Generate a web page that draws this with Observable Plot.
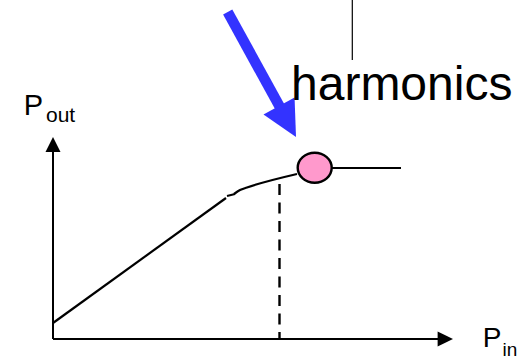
<!DOCTYPE html>
<html>
<head>
<meta charset="utf-8">
<script src="https://cdn.jsdelivr.net/npm/d3@7"></script>
<script src="https://cdn.jsdelivr.net/npm/@observablehq/plot@0.6"></script>
<style>
  html, body { margin: 0; padding: 0; background: #fff; }
  #chart svg { display: block; }
</style>
</head>
<body>
<div id="chart"></div>
<script>
// ---- Data (schematic units: Pin horizontally, Pout vertically, origin at axes) ----
const axisPin = [0, 392];            // horizontal axis extent
const axisPout = [0, 194];           // vertical axis extent
const axisTipPin = 400;              // arrow tip of Pin axis
const axisTipPout = 202;             // arrow tip of Pout axis

const linearPin = [0, 173];          // linear gain region
const linearPout = [16, 141];
const kinkPin = [174, 182];          // small drawing break
const kinkPout = [143, 145];
const compressPin = [181, 187, 194, 244];   // compression region
const compressPout = [145, 149, 151.5, 165];
const saturationPin = [279, 348];    // saturated output
const saturationPout = [171, 171];

const compressionPointPin = [261.7]; // pink marker
const compressionPointPout = [171.2];

const dashedPin = [226.5, 226.5];    // dashed drop line
const dashedPout = [155, 0];

const arrowPin = [174.7, 228];       // blue arrow shaft
const arrowPout = [327, 230];
const arrowTipPin = [243];
const arrowTipPout = [202];

const leaderPin = [299.3, 299.3];    // thin line above label
const leaderPout = [339, 279];

const labelText = ["harmonics", "P", "out", "P", "in"];
const labelPin = [238, -29.2, -7, 429.8, 449.5];
const labelPout = [239, 224, 217.3, -7.7, -17];
const labelSize = [48, 29, 21, 28, 19];

// ---- helpers ----
const rows = (xs, ys) => xs.map((x, i) => ({x, y: ys[i]}));
function headSymbol(k) {
  return {
    draw(ctx, size) {
      const r = Math.sqrt(size / Math.PI);
      ctx.moveTo(0, 0);
      ctx.lineTo(-r, k * r);
      ctx.lineTo(r, k * r);
      ctx.closePath();
    }
  };
}
const ellipseSymbol = {
  draw(ctx, size) {
    const a = Math.sqrt(size / Math.PI), b = a * 15 / 17, c = 0.5523;
    ctx.moveTo(a, 0);
    ctx.bezierCurveTo(a, c * b, c * a, b, 0, b);
    ctx.bezierCurveTo(-c * a, b, -a, c * b, -a, 0);
    ctx.bezierCurveTo(-a, -c * b, -c * a, -b, 0, -b);
    ctx.bezierCurveTo(c * a, -b, a, -c * b, a, 0);
    ctx.closePath();
  }
};
const font = "Liberation Sans, Arial, Helvetica, sans-serif";
const labels = labelText.map((t, i) => ({t, x: labelPin[i], y: labelPout[i], s: labelSize[i]}));

const chart = Plot.plot({
  width: 520,
  height: 361,
  margin: 0,
  x: {domain: [-52.5, 467.5], axis: null},
  y: {domain: [-22.5, 338.5], axis: null},
  style: {background: "white", fontFamily: font},
  marks: [
    // axes
    Plot.line(rows(axisPin, [0, 0]), {x: "x", y: "y", stroke: "black", strokeWidth: 2, strokeLinecap: "butt"}),
    Plot.line(rows([0, 0], axisPout), {x: "x", y: "y", stroke: "black", strokeWidth: 2, strokeLinecap: "butt"}),
    Plot.dot([0], {x: [axisTipPin], y: [0], symbol: headSymbol(2.05), r: 7.5, rotate: 90, fill: "black", stroke: "none"}),
    Plot.dot([0], {x: [0], y: [axisTipPout], symbol: headSymbol(2.0), r: 7.5, rotate: 0, fill: "black", stroke: "none"}),
    // transfer curve
    Plot.line(rows(linearPin, linearPout), {x: "x", y: "y", stroke: "black", strokeWidth: 2.2, strokeLinecap: "butt"}),
    Plot.line(rows(kinkPin, kinkPout), {x: "x", y: "y", stroke: "black", strokeWidth: 2.2, strokeLinecap: "butt"}),
    Plot.line(rows(compressPin, compressPout), {x: "x", y: "y", stroke: "black", strokeWidth: 2.2, curve: "monotone-x", strokeLinecap: "butt"}),
    Plot.line(rows(saturationPin, saturationPout), {x: "x", y: "y", stroke: "black", strokeWidth: 2.2, strokeLinecap: "butt"}),
    // dashed drop line
    Plot.line(rows(dashedPin, dashedPout), {x: "x", y: "y", stroke: "black", strokeWidth: 2.4, strokeDasharray: "11,7.5", strokeLinecap: "butt"}),
    // compression point marker
    Plot.dot([0], {x: compressionPointPin, y: compressionPointPout, symbol: ellipseSymbol, r: 17, fill: "#ff99cc", stroke: "black", strokeWidth: 2.4}),
    // thin leader line
    Plot.line(rows(leaderPin, leaderPout), {x: "x", y: "y", stroke: "black", strokeWidth: 1.2, strokeLinecap: "butt"}),
    // blue arrow
    Plot.line(rows(arrowPin, arrowPout), {x: "x", y: "y", stroke: "#3333ff", strokeWidth: 10.5, strokeLinecap: "butt"}),
    Plot.dot([0], {x: arrowTipPin, y: arrowTipPout, symbol: headSymbol(2.0), r: 17.7, rotate: 151.35, fill: "#3333ff", stroke: "none"}),
    // labels
    Plot.text(labels, {x: "x", y: "y", text: "t", fontSize: (d) => d.s, textAnchor: "start", lineAnchor: "bottom", fill: "black", fontFamily: font})
  ]
});
document.getElementById("chart").appendChild(chart);
</script>
</body>
</html>
